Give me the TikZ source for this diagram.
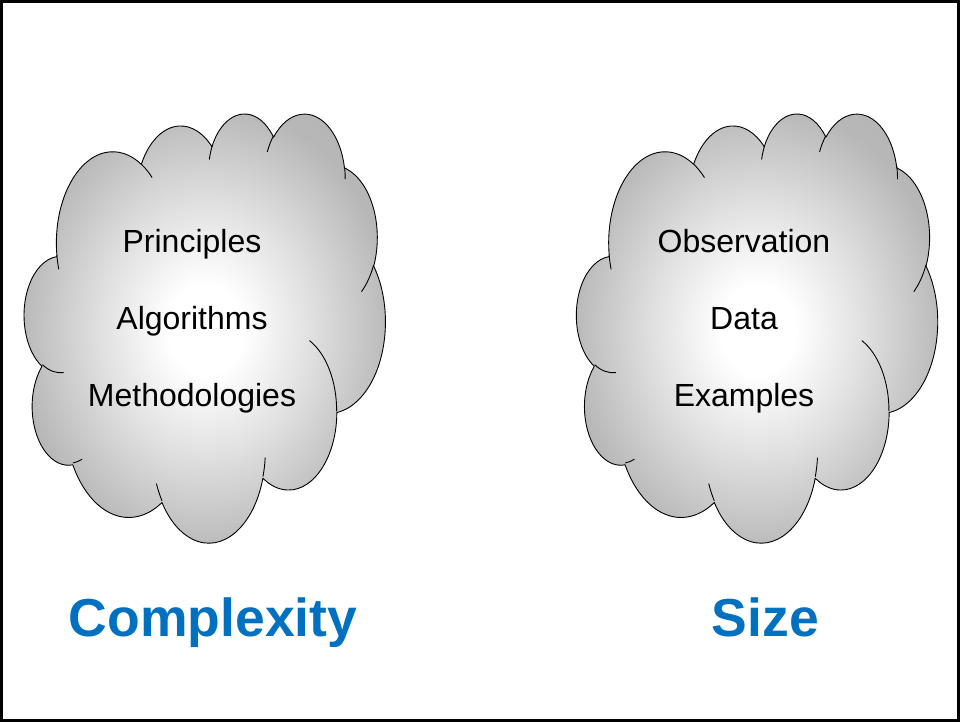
\documentclass[tikz,border=0pt]{standalone}
\usepackage{fontspec}
\setmainfont{Liberation Sans}
\definecolor{pptblue}{RGB}{0,112,192}
\pgfdeclareradialshading{cloudshade}{\pgfpoint{0bp}{0bp}}{color(0bp)=(white); color(5bp)=(white); color(14bp)=(black!12); color(25bp)=(black!28); color(50bp)=(black!34)}
\newcommand\carc[4]{%
  \pgfextra{%
    \pgfmathsetmacro\cA{atan2((#1)*sin(#3),(#2)*cos(#3))}%
    \pgfmathsetmacro\cB{atan2((#1)*sin((#3)+(#4)),(#2)*cos((#3)+(#4)))}%
    \pgfmathsetmacro\cD{mod(\cB-\cA+720,360)}%
    \global\let\cA\cA \global\let\cD\cD}%
  arc[start angle=\cA, delta angle=\cD, x radius=#1, y radius=#2]}
\newcommand\cloudoutline{%
  (39.00,143.70)
  \carc{67.53}{91.90}{-190.4875}{123.7805}
  \carc{53.33}{72.67}{-144.1024}{89.9452}
  \carc{43.65}{59.45}{-145.8079}{99.7230}
  \carc{48.57}{65.95}{-130.9861}{117.2417}
  \carc{53.33}{72.73}{-78.7089}{109.0269}
  \carc{67.75}{92.20}{-46.2673}{130.2690}
  \carc{57.85}{78.67}{0.6250}{114.0333}
  \carc{67.52}{92.15}{22.4516}{115.1726}
  \carc{77.20}{105.43}{66.2426}{75.7110}
  \carc{43.60}{59.18}{-274.9421}{146.7356}
  \carc{43.45}{59.45}{-246.8285}{152.5189}
  -- cycle}
\newcommand\cloudinner{%
  (46.93,261.77) \carc{43.45}{59.45}{86.7420}{26.4295}
  (69.28,348.99) \carc{43.60}{59.18}{73.6105}{11.4475}
  (164.78,390.90) \carc{67.52}{92.15}{137.6242}{14.0811}
  (288.27,347.51) \carc{67.52}{92.15}{6.4533}{15.9984}
  (341.29,229.54) \carc{57.85}{78.67}{-70.2924}{70.9174}
  (417.98,153.54) \carc{53.33}{72.73}{30.3180}{27.7515}
  (383.24,54.26) \carc{48.57}{65.95}{-13.7443}{14.8589}
  (290.78,39.52) \carc{48.57}{65.95}{-149.1815}{18.1954}
  (221.41,47.20) \carc{43.65}{59.45}{-163.4943}{17.6864}
  (140.00,51.92) \carc{67.53}{91.90}{-66.7070}{12.3194}
  (41.27,157.89) \carc{67.53}{91.90}{157.6544}{11.8582}}
\tikzset{
  cloudline/.style={draw=black, line width=0.9pt, line join=round},
  cloudtext/.style={anchor=base, inner sep=0pt, font=\fontsize{32}{38}\selectfont, text=black},
  titletext/.style={anchor=base, inner sep=0pt, font=\fontsize{53.5}{60}\selectfont\bfseries, text=pptblue},
  frame/.style={draw=black, line width=3pt}
}
\begin{document}
\begin{tikzpicture}[x=1pt, y=-1pt]
\useasboundingbox (0,0) rectangle (960,722);
\path[frame] (1.5,1.5) rectangle (958.5,720.5);
% left cloud
\begin{scope}[shift={(24.3,112.6)}, xscale=0.8356, yscale=0.9931]
  \shade[shading=cloudshade] \cloudoutline;
  \path[cloudline] \cloudoutline;
  \path[cloudline] \cloudinner;
\end{scope}
% right cloud
\begin{scope}[shift={(576.6,112.6)}, xscale=0.8356, yscale=0.9931]
  \shade[shading=cloudshade] \cloudoutline;
  \path[cloudline] \cloudoutline;
  \path[cloudline] \cloudinner;
\end{scope}
\node[cloudtext] (principles) at (192,252) {Principles};
\node[cloudtext] (algorithms) at (192,329) {Algorithms};
\node[cloudtext] (methods) at (192,406) {Methodologies};
\node[cloudtext] (observation) at (744,252) {Observation};
\node[cloudtext] (data) at (744,329) {Data};
\node[cloudtext] (examples) at (744,406) {Examples};
\node[titletext] (complexity) at (213,636) {Complexity};
\node[titletext] (size) at (765.5,636) {Size};
\end{tikzpicture}
\end{document}
